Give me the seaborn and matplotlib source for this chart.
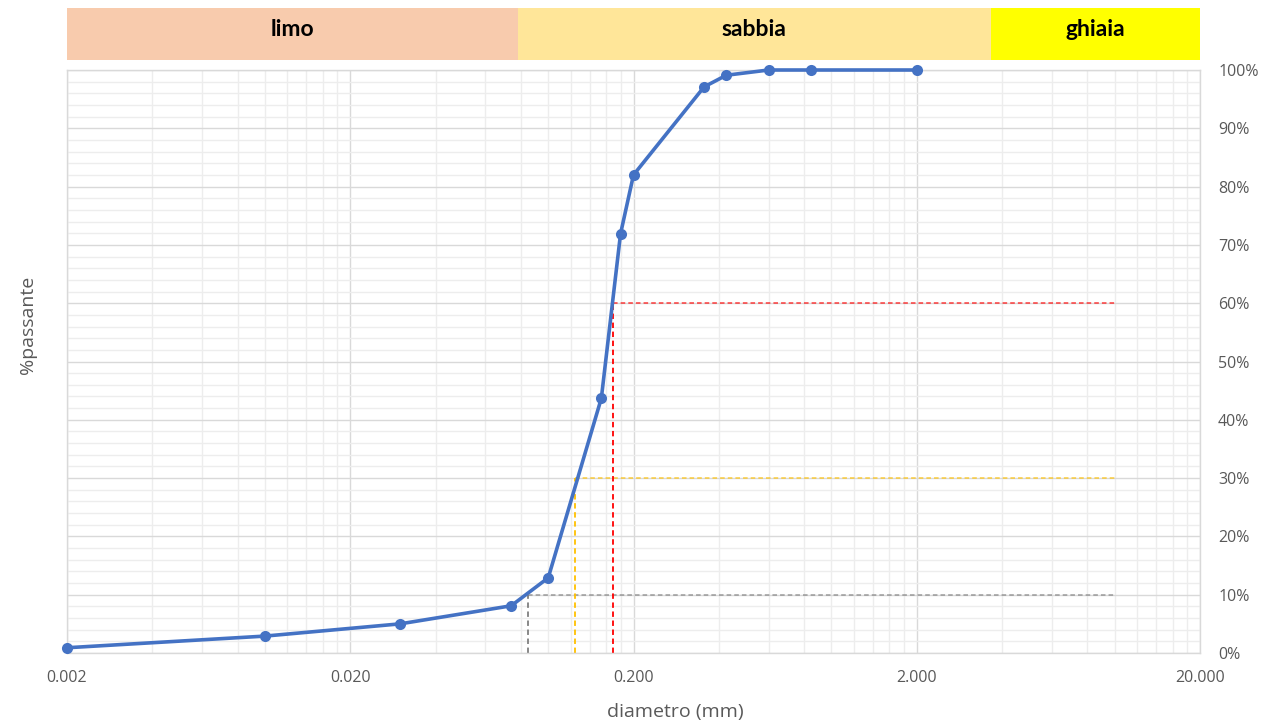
import numpy as np
import pandas as pd
import matplotlib
matplotlib.use("Agg")
import matplotlib.pyplot as plt
import matplotlib.ticker as mticker
import seaborn as sns

# ===== DATA =====
diametro = [0.002, 0.010, 0.030, 0.074, 0.100, 0.154, 0.180, 0.200, 0.355, 0.425, 0.600, 0.850, 2.000]
passante = [0.9, 2.9, 5.0, 8.1, 12.9, 43.7, 71.9, 82.0, 97.1, 99.1, 100.0, 100.0, 100.0]

# diametri caratteristici D10, D30, D60
d_car = [0.085, 0.124, 0.169]
p_car = [10, 30, 60]
col_car = ["#7F7F7F", "#FFC000", "#FF0000"]
fine_orizz = 10.0

# fasce granulometriche
fasce = ["limo", "sabbia", "ghiaia"]
fasce_lim = [0.002, 0.078, 3.66, 20.0]
fasce_col = ["#F8CBAD", "#FFE699", "#FFFF00"]

x_ticks = [0.002, 0.02, 0.2, 2.0, 20.0]

df = pd.DataFrame({"diametro": diametro, "passante": passante})

# ===== STYLE =====
sns.set_style("white")
plt.rcParams["font.family"] = ["Open Sans", "DejaVu Sans"]

W, H = 1265, 723
fig = plt.figure(figsize=(W / 100, H / 100), dpi=100)
ax = fig.add_axes([67 / W, 1 - 653 / H, (1200 - 67) / W, (653 - 70) / H])
axb = fig.add_axes([67 / W, 1 - 60 / H, (1200 - 67) / W, 52 / H])

# ===== GRID =====
ax.set_xscale("log")
ax.set_xlim(0.002, 20)
ax.set_ylim(0, 100)
minx = [k * 0.002 * 10 ** n for n in range(4) for k in range(2, 10)]
ax.xaxis.set_major_locator(mticker.FixedLocator(x_ticks))
ax.xaxis.set_minor_locator(mticker.FixedLocator(minx))
ax.xaxis.set_major_formatter(mticker.FuncFormatter(lambda v, p: f"{v:.3f}"))
ax.xaxis.set_minor_formatter(mticker.NullFormatter())
ax.yaxis.set_major_locator(mticker.MultipleLocator(10))
ax.yaxis.set_minor_locator(mticker.MultipleLocator(2))
ax.yaxis.set_major_formatter(mticker.FuncFormatter(lambda v, p: f"{v:.0f}%"))
ax.grid(which="major", color="#D9D9D9", lw=1)
ax.grid(which="minor", color="#EDEDED", lw=1)
ax.set_axisbelow(True)
ax.yaxis.tick_right()
ax.tick_params(which="both", length=0, colors="#595959", labelsize=11.5)
ax.tick_params(axis="x", pad=12)
ax.tick_params(axis="y", pad=13)
for s in ax.spines.values():
    s.set_color("#D9D9D9")
    s.set_linewidth(1)

# ===== DASHED LINES =====
for d, p, c in zip(d_car, p_car, col_car):
    ax.plot([d, d], [0, p], color=c, lw=1.3, ls=(0, (3, 2)), zorder=2)
    ax.plot([d, fine_orizz], [p, p], color=c, lw=1.1, ls=(0, (3, 2)), alpha=0.75, zorder=2)

# ===== CURVE =====
sns.lineplot(data=df, x="diametro", y="passante", ax=ax, color="#4472C4",
             lw=2.6, marker="o", markersize=8, markeredgewidth=0, zorder=3,
             clip_on=False)
ax.set_xlabel("")
ax.set_ylabel("")

# ===== BANDS =====
axb.set_xscale("log")
axb.set_xlim(0.002, 20)
axb.set_ylim(0, 1)
axb.axis("off")
for i, nome in enumerate(fasce):
    a, b = fasce_lim[i], fasce_lim[i + 1]
    axb.axvspan(a, b, color=fasce_col[i], lw=0)
    axb.text(np.sqrt(a * b), 0.58, nome, ha="center", va="center",
             fontsize=16.5, fontweight="bold", color="black",
             family=["Lato", "DejaVu Sans"])

fig.text(675 / W, 1 - 712 / H, "diametro (mm)", ha="center", va="center",
         fontsize=14, color="#595959")
fig.text(28 / W, 1 - 325 / H, "%passante", ha="center", va="center",
         rotation=90, fontsize=14, color="#595959")

fig.savefig("out.png", dpi=100)
